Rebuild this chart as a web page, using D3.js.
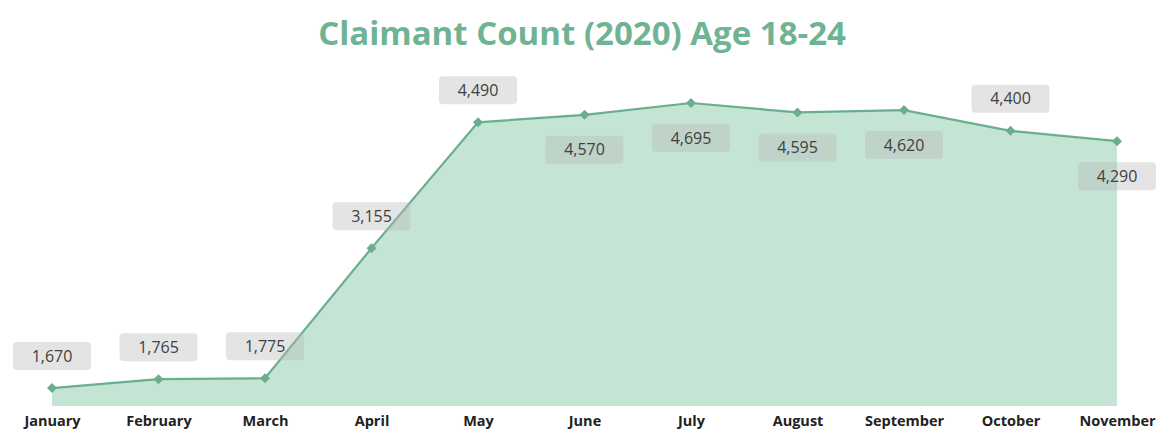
<!DOCTYPE html>
<html><head><meta charset="utf-8">
<script src="https://cdn.jsdelivr.net/npm/d3@7"></script>
<style>body{margin:0;background:#fff;}svg{display:block;}</style>
</head><body>
<svg id="c" width="1160" height="431"></svg>
<script>
const months = ["January","February","March","April","May","June","July","August","September","October","November"];
const counts = [1670,1765,1775,3155,4490,4570,4695,4595,4620,4400,4290];
const labelPos = ["above","above","above","above","above","below","below","below","below","above","below"];
const title = "Claimant Count (2020) Age 18-24";

const svg = d3.select("#c");
const x = d3.scalePoint().domain(months).range([52,1117]);
const y = d3.scaleLinear().domain([1480,4695]).range([406,103]);

svg.append("text").attr("x",582).attr("y",45).attr("text-anchor","middle")
  .attr("font-family","Open Sans").attr("font-weight","bold").attr("font-size",33)
  .attr("fill","#6fb393").text(title);

const data = months.map((m,i)=>({m, v:counts[i], pos:labelPos[i]}));

svg.append("path").datum(data)
  .attr("d", d3.area().x(d=>x(d.m)).y0(y(1480)).y1(d=>y(d.v)))
  .attr("fill","#c4e4d4");
svg.append("path").datum(data)
  .attr("d", d3.line().x(d=>x(d.m)).y(d=>y(d.v)))
  .attr("fill","none").attr("stroke","#6aae8e").attr("stroke-width",2.2);
svg.selectAll(".pt").data(data).join("path").attr("class","pt")
  .attr("d", d3.symbol(d3.symbolSquare,50)())
  .attr("transform",d=>`translate(${x(d.m)},${y(d.v)}) rotate(45)`)
  .attr("fill","#6aae8e");

const g = svg.selectAll(".lab").data(data).join("g").attr("class","lab")
  .attr("transform",d=>`translate(${x(d.m)},${y(d.v) + (d.pos==="above"?-32:35)})`);
g.append("rect").attr("x",-39).attr("y",-14).attr("width",78).attr("height",28).attr("rx",4)
  .attr("fill","rgba(185,185,185,0.38)");
g.append("text").attr("text-anchor","middle").attr("dy","0.35em")
  .attr("font-family","Open Sans").attr("font-size",16).attr("fill","#404040")
  .text(d=>d3.format(",")(d.v));

const ax = svg.append("g").attr("transform","translate(0,411)")
  .call(d3.axisBottom(x).tickSize(0).tickPadding(5));
ax.select(".domain").remove();
ax.selectAll("text").attr("font-family","Open Sans").attr("font-weight","bold")
  .attr("font-size",14.5).attr("fill","#222");
</script>
</body></html>
